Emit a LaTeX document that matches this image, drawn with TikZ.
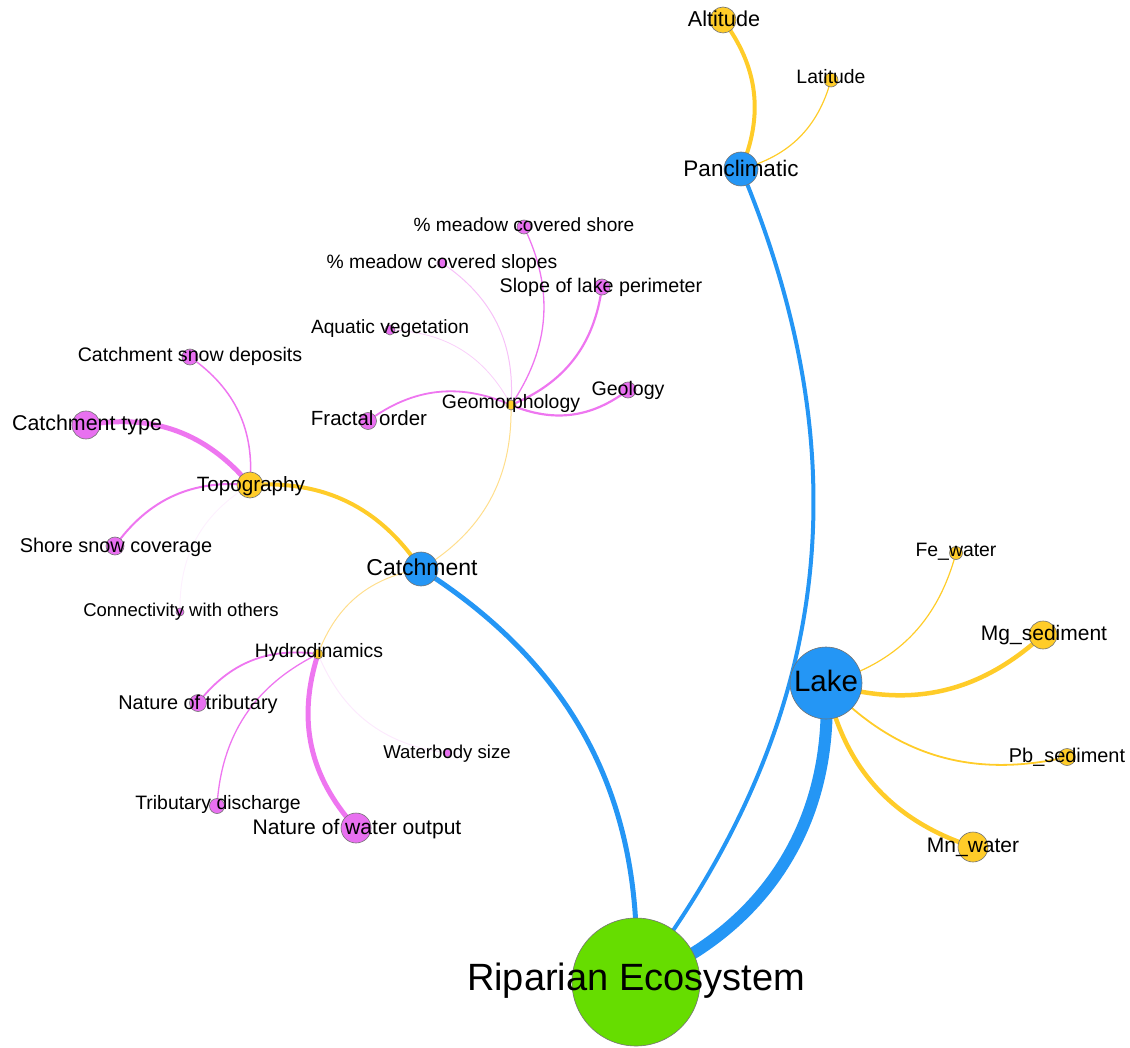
\documentclass[tikz,border=0pt]{standalone}
\usepackage{fontspec}
\setmainfont{Liberation Sans}
\definecolor{cblue}{RGB}{36,150,245}
\definecolor{cyel}{RGB}{255,204,41}
\definecolor{cpyel}{RGB}{255,222,140}
\definecolor{cpink}{RGB}{238,118,240}
\definecolor{cpinkf}{RGB}{232,112,240}
\definecolor{cgreen}{RGB}{102,221,0}
\pgfdeclarelayer{edges}
\pgfdeclarelayer{labels}
\pgfsetlayers{edges,main,labels}
\begin{document}
\begin{tikzpicture}[x=1pt,y=-1pt,
  vtx/.style={circle, draw=black!55, line width=0.6pt, inner sep=0pt},
  gn/.style={vtx, fill=cgreen, minimum size=#1},
  bn/.style={vtx, fill=cblue, minimum size=#1},
  yn/.style={vtx, fill=cyel, minimum size=#1},
  pn/.style={vtx, fill=cpinkf, minimum size=#1},
  lab/.style={inner sep=0pt, text=black, font=\fontsize{#1}{#1}\selectfont, text height=0.716*#1pt, text depth=0pt},
  ed/.style={line width=#1},
  be/.style={draw=cblue},
  ye/.style={draw=cyel},
  pe/.style={draw=cpink}
]
\useasboundingbox (0,0) rectangle (1130,1048);

% ---- nodes ----
\node[gn=128pt] (rip) at (636,982) {};
\node[bn=72pt] (lake) at (826,683) {};
\node[bn=34pt] (panc) at (741,169) {};
\node[bn=34pt] (cat) at (421,569) {};
\node[yn=26pt] (alt) at (723,20) {};
\node[yn=14pt] (lat) at (831,80) {};
\node[yn=26pt] (topo) at (250,485) {};
\node[yn=10pt] (geo) at (511,405) {};
\node[yn=10pt] (hyd) at (318,654) {};
\node[yn=13pt] (fe) at (956,553) {};
\node[yn=28pt] (mg) at (1043,635) {};
\node[yn=17pt] (pb) at (1067,757) {};
\node[yn=30pt] (mn) at (973,847) {};
\node[pn=28pt] (ctype) at (86,425) {};
\node[pn=16pt] (snowdep) at (190,357) {};
\node[pn=18pt] (shore) at (115,546) {};
\node[pn=8pt] (conn) at (180,612) {};
\node[pn=17pt] (frac) at (368,421) {};
\node[pn=10pt] (aqua) at (390,330) {};
\node[pn=10pt] (mslo) at (442,263) {};
\node[pn=14pt] (mshr) at (524,227) {};
\node[pn=16pt] (slope) at (602,287) {};
\node[pn=16pt] (geol) at (628,390) {};
\node[pn=17pt] (ntrib) at (198,703) {};
\node[pn=15pt] (tdis) at (217,806) {};
\node[pn=30pt] (wout) at (356,828) {};
\node[pn=8pt] (wbody) at (447,753) {};

% ---- edges ----
\begin{pgfonlayer}{edges}
\draw[be, ed=5pt] (rip.center) to[bend right=30] (cat.center);
\draw[be, ed=12pt] (rip.center) to[bend right=36] (lake.center);
\draw[be, ed=4pt] (rip.center) to[bend right=30] (panc.center);
\draw[ye, ed=4pt] (panc.center) to[bend right=30] (alt.center);
\draw[ye, ed=1.2pt] (panc.center) to[bend right=30] (lat.center);
\draw[ye, ed=4pt] (cat.center) to[bend right=30] (topo.center);
\draw[draw=cpyel, ed=1pt] (cat.center) to[bend right=30] (geo.center);
\draw[draw=cpyel, ed=1pt] (cat.center) to[bend right=30] (hyd.center);
\draw[ye, ed=1.2pt] (lake.center) to[bend right=30] (fe.center);
\draw[ye, ed=4.5pt] (lake.center) to[bend right=30] (mg.center);
\draw[ye, ed=1.8pt] (lake.center) to[bend right=30] (pb.center);
\draw[ye, ed=4.5pt] (lake.center) to[bend right=30] (mn.center);
\draw[pe, ed=5pt] (topo.center) to[bend right=30] (ctype.center);
\draw[pe, ed=1.5pt] (topo.center) to[bend right=30] (snowdep.center);
\draw[pe, ed=2pt] (topo.center) to[bend right=30] (shore.center);
\draw[draw=cpink!10, ed=1pt] (topo.center) to[bend right=30] (conn.center);
\draw[pe, ed=1.8pt] (geo.center) to[bend right=30] (frac.center);
\draw[draw=cpink!35, ed=0.8pt] (geo.center) to[bend right=30] (aqua.center);
\draw[draw=cpink!45, ed=1pt] (geo.center) to[bend right=30] (mslo.center);
\draw[pe, ed=1.3pt] (geo.center) to[bend right=30] (mshr.center);
\draw[pe, ed=2.2pt] (geo.center) to[bend right=30] (slope.center);
\draw[pe, ed=2.2pt] (geo.center) to[bend right=30] (geol.center);
\draw[pe, ed=1.8pt] (hyd.center) to[bend right=30] (ntrib.center);
\draw[pe, ed=1.3pt] (hyd.center) to[bend right=30] (tdis.center);
\draw[pe, ed=5pt] (hyd.center) to[bend right=30] (wout.center);
\draw[draw=cpink!15, ed=1pt] (hyd.center) to[bend right=30] (wbody.center);
\end{pgfonlayer}

% ---- labels ----
\begin{pgfonlayer}{labels}
\node[lab=38] (trip) at (636,977) {Riparian Ecosystem};
\node[lab=29.5] (tlake) at (826,681) {Lake};
\node[lab=22.5] (tpanc) at (741,168) {Panclimatic};
\node[lab=23] (tcat) at (422,567) {Catchment};
\node[lab=21.6] (talt) at (724,19) {Altitude};
\node[lab=19.4] (tlat) at (831,77) {Latitude};
\node[lab=20.7] (ttopo) at (251,484) {Topography};
\node[lab=19.4] (tgeo) at (511,402) {Geomorphology};
\node[lab=19.4] (thyd) at (319,651) {Hydrodinamics};
\node[lab=21.4] (tctype) at (87,423) {Catchment type};
\node[lab=19.6] (tsnowdep) at (190,354) {Catchment snow deposits};
\node[lab=19.9] (tshore) at (116,545) {Shore snow coverage};
\node[lab=18.5] (tconn) at (181,610) {Connectivity with others};
\node[lab=20.5] (tfrac) at (369,418) {Fractal order};
\node[lab=19.2] (taqua) at (390,327) {Aquatic vegetation};
\node[lab=19.3] (tmslo) at (442,262) {\% meadow covered slopes};
\node[lab=19.1] (tmshr) at (524,225) {\% meadow covered shore};
\node[lab=19.7] (tslope) at (601,285) {Slope of lake perimeter};
\node[lab=19.6] (tgeol) at (628,388) {Geology};
\node[lab=19.9] (tntrib) at (198,702) {Nature of tributary};
\node[lab=19.4] (ttdis) at (218,803) {Tributary discharge};
\node[lab=21.1] (twout) at (357,827) {Nature of water output};
\node[lab=18.6] (twbody) at (447,752) {Waterbody size};
\node[lab=19.4] (tfe) at (956,550) {Fe\_water};
\node[lab=21] (tmg) at (1044,633) {Mg\_sediment};
\node[lab=19.9] (tpb) at (1067,755) {Pb\_sediment};
\node[lab=21] (tmn) at (973,845) {Mn\_water};
\end{pgfonlayer}
\end{tikzpicture}
\end{document}
